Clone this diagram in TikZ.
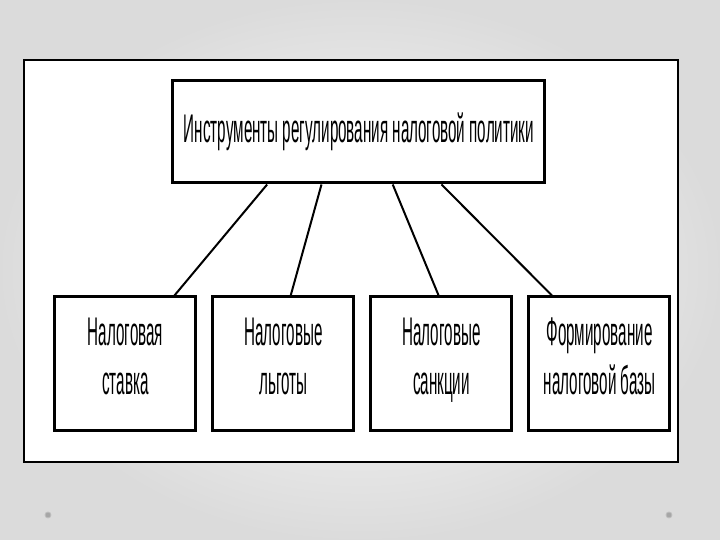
\documentclass[tikz,border=0pt]{standalone}
\usepackage{fontspec}
\setmainfont{Liberation Sans}[FakeStretch=0.38]
\usetikzlibrary{positioning,calc}

\begin{document}
\begin{tikzpicture}[
    x=1pt, y=1pt,
    node distance=7pt,
    head/.style={draw, line width=1.5pt, align=center, fill=white, inner sep=2pt,
                 font=\fontsize{20}{24.5}\selectfont, minimum width=186pt, minimum height=51pt},
    item/.style={draw, line width=1.5pt, align=center, fill=white, inner sep=2pt,
                 font=\fontsize{20}{24.5}\selectfont, minimum width=70.5pt, minimum height=67pt,
                 execute at end node=\strut},
    link/.style={line width=1pt},
    dot/.style={fill=gray!70, draw=gray!50}
  ]
    % slide background
    \shade[inner color=white, outer color=gray!28] (0,0) rectangle (360,270);
    \useasboundingbox (0,0) rectangle (360,270);
    \draw[line width=1pt, fill=white] (12,39) rectangle (339,240);
    \fill[dot] (24,12.5) circle (1.5);
    \fill[dot] (334.5,12.5) circle (1.5);

    \node[head] (tools) at (179.5,204) {Инструменты регулирования налоговой политики};
    \node[item] (rate) at (62.75,88) {Налоговая\\ставка};
    \node[item, right=of rate] (relief) {Налоговые\\льготы};
    \node[item, right=of relief] (sanct) {Налоговые\\санкции};
    \node[item, right=of sanct] (base) {Формирование\\налоговой базы};

    \draw[link] ($(tools.south west)!0.255!(tools.south east)$) -- ($(rate.north west)!0.84!(rate.north east)$);
    \draw[link] ($(tools.south west)!0.40!(tools.south east)$) -- ($(relief.north west)!0.55!(relief.north east)$);
    \draw[link] ($(tools.south west)!0.59!(tools.south east)$) -- ($(sanct.north west)!0.48!(sanct.north east)$);
    \draw[link] ($(tools.south west)!0.72!(tools.south east)$) -- ($(base.north west)!0.17!(base.north east)$);
  \end{tikzpicture}
\end{document}
